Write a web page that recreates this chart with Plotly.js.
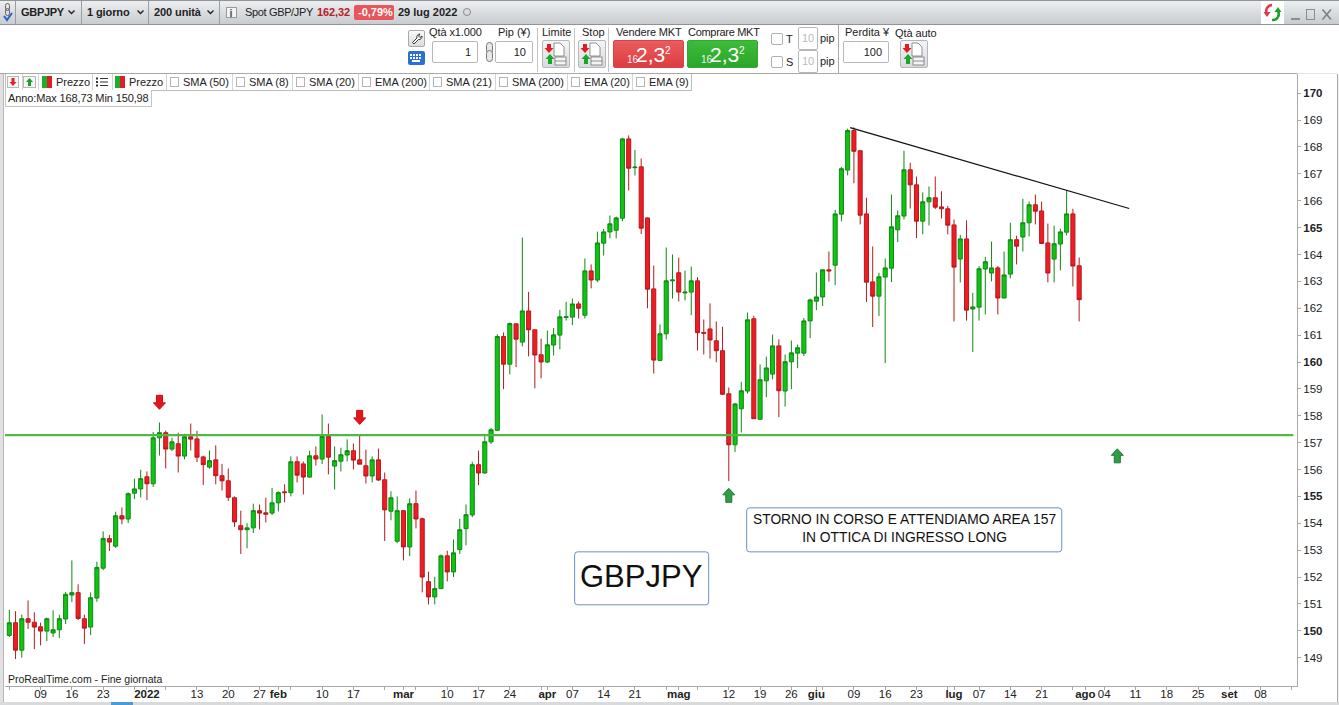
<!DOCTYPE html>
<html>
<head>
<meta charset="utf-8">
<title>GBPJPY</title>
<script src="https://cdn.plot.ly/plotly-3.0.1.min.js"></script>
<style>
html,body{margin:0;padding:0;background:#fff;width:1339px;height:705px;overflow:hidden;font-family:"Liberation Sans",Arial,sans-serif;}
#chart{position:absolute;left:0;top:0;width:1339px;height:705px;}
#ui{position:absolute;left:0;top:0;width:1339px;height:705px;pointer-events:none;}
#ui div{position:absolute;box-sizing:border-box;white-space:nowrap;}
#ui svg{position:absolute;overflow:visible;}
</style>
</head>
<body>
<div id="chart"></div>
<div id="ui"></div>
<script>
// ---------- Session index (0 = 2 Dec 2021, weekdays only) and daily prices ----------
const open = [149.83,150.30,149.28,150.45,150.32,150.15,149.99,149.92,150.04,150.44,
151.33,151.42,150.45,150.14,151.22,152.33,153.43,153.15,154.28,154.16,
155.12,155.28,155.73,155.47,157.18,157.37,156.76,156.96,156.50,157.22,
157.14,156.47,156.09,156.36,155.77,155.58,154.95,153.91,153.76,153.83,
154.47,154.39,154.38,154.76,155.17,155.14,156.29,156.21,155.72,156.51,
156.39,157.23,156.13,156.31,156.54,156.70,156.36,156.14,155.76,156.36,
155.62,154.45,153.33,154.47,153.12,154.73,154.17,151.83,151.26,151.57,
152.79,152.19,153.02,153.80,154.31,156.18,155.87,157.03,157.46,160.95,
159.92,161.42,160.74,161.90,161.20,160.27,160.00,160.63,161.00,161.66,
161.67,162.16,161.74,163.39,163.05,164.42,164.84,164.90,165.35,168.30,
167.23,167.26,165.36,162.72,160.06,161.05,163.02,163.32,162.57,162.60,
163.02,161.10,161.23,160.79,160.42,158.82,156.92,158.26,158.92,161.61,
157.87,159.30,159.55,160.60,158.92,160.01,160.33,160.33,161.53,162.26,
162.42,163.43,163.60,165.50,167.14,168.61,167.86,165.51,162.98,162.45,
163.16,163.49,164.92,165.43,167.15,166.59,165.24,165.96,166.11,165.77,
165.70,165.10,163.83,164.58,161.97,162.04,163.46,163.31,163.50,162.38,
163.27,164.55,164.65,165.18,165.85,165.62,164.43,163.83,164.39,164.83,
165.51,163.58];
const high = [150.78,150.73,150.60,151.13,150.69,150.30,150.49,150.76,150.60,151.44,
152.62,151.73,150.60,151.43,152.57,153.70,153.57,154.43,154.59,155.15,
155.66,155.99,155.93,157.40,157.75,157.45,157.18,157.37,157.33,157.71,
157.44,156.52,156.71,156.90,156.21,156.04,155.00,154.47,154.00,154.73,
154.70,154.95,155.32,155.19,155.45,156.49,156.49,156.30,156.70,156.86,
158.05,157.71,156.86,156.81,157.12,156.97,157.27,156.74,156.49,156.78,
155.89,155.19,155.00,154.48,154.93,155.22,154.21,152.20,152.01,152.84,
152.98,153.40,154.17,154.70,156.29,156.70,157.24,157.55,161.03,161.10,
161.47,161.43,164.63,162.61,161.20,160.87,161.17,161.27,161.94,162.24,
162.36,162.25,163.85,163.63,164.85,164.95,165.45,165.41,168.34,168.43,
167.89,167.57,165.38,163.59,161.40,164.26,164.00,163.88,163.40,163.55,
163.16,161.58,162.18,161.51,161.31,159.05,158.48,159.26,161.84,161.72,
159.91,160.20,161.02,160.84,160.28,160.80,160.65,161.64,162.36,163.33,
163.43,164.11,165.66,167.26,168.68,168.73,167.87,166.11,164.30,163.32,
163.85,166.23,165.64,167.86,167.41,166.90,166.31,166.53,166.90,166.35,
165.81,165.30,164.73,165.27,162.57,163.57,163.91,164.48,163.57,164.11,
165.18,164.70,166.07,165.97,166.23,165.97,165.15,165.07,164.96,166.37,
165.70,163.89];
const low = [149.77,148.95,149.00,150.07,149.32,149.46,149.62,149.77,149.73,150.25,
151.07,150.40,149.51,149.84,151.08,152.26,152.97,153.08,153.96,154.01,
154.90,154.96,154.86,155.35,156.52,156.04,156.69,155.89,156.38,156.71,
156.28,155.42,156.03,155.45,155.22,154.83,153.86,152.86,153.07,153.64,
153.77,154.03,154.31,154.44,154.78,155.00,155.52,155.07,155.70,156.15,
156.20,155.82,155.26,155.93,156.30,156.00,156.20,155.48,155.52,155.57,
153.34,154.11,153.26,152.62,152.78,153.81,151.43,150.98,150.98,151.55,
151.84,152.00,152.86,153.18,154.23,155.42,155.85,156.95,157.43,158.99,
159.54,159.81,160.58,160.21,159.02,159.39,159.96,160.24,160.47,161.54,
161.37,161.62,161.62,162.74,162.97,163.96,164.60,164.60,165.23,166.38,
166.94,164.76,162.00,159.57,160.03,160.84,162.36,162.25,162.29,161.74,
160.43,160.28,160.13,159.99,158.77,155.57,156.65,157.38,158.83,157.89,
157.85,158.69,159.35,157.95,158.34,158.99,159.77,160.22,160.89,161.93,
162.08,162.99,162.86,165.23,166.94,166.65,165.12,162.23,161.30,161.71,
159.96,162.97,164.46,165.30,165.71,164.61,164.75,165.08,165.69,165.34,
164.75,161.51,162.96,161.54,160.37,161.54,161.77,163.00,161.77,162.38,
163.11,163.63,164.11,164.67,165.12,164.39,162.96,162.96,163.41,164.71,
162.81,161.51];
const close = [150.30,149.28,150.45,150.32,150.14,149.99,150.45,150.04,150.45,151.36,
151.42,150.46,150.10,151.23,152.36,153.44,153.30,154.28,154.16,155.10,
155.28,155.66,155.47,157.18,157.37,156.76,157.03,156.50,157.22,157.13,
156.46,156.18,156.33,155.77,155.58,154.97,154.05,153.76,153.83,154.47,
154.38,154.34,154.76,155.14,155.14,156.29,155.79,155.72,156.51,156.39,
157.23,156.46,156.33,156.55,156.70,156.35,156.20,155.76,156.36,155.61,
154.50,154.95,154.47,153.12,154.73,154.16,152.00,151.26,151.57,152.79,
152.19,152.90,153.76,154.32,156.18,155.87,157.03,157.48,160.95,159.92,
161.43,160.85,161.90,161.20,160.26,160.00,160.64,161.01,161.68,161.68,
162.16,162.00,163.39,163.05,164.43,164.84,165.14,165.36,168.30,167.21,
167.25,164.98,162.71,160.07,161.05,163.02,163.05,162.60,162.60,163.02,
161.09,161.07,160.82,160.42,158.80,156.92,158.44,158.93,161.57,157.89,
159.34,159.78,160.60,158.93,160.01,160.34,160.53,161.53,162.31,162.42,
163.43,163.39,165.51,167.19,168.61,167.84,165.46,162.97,162.45,163.17,
163.50,165.03,165.44,167.15,166.59,165.24,165.96,166.11,165.76,165.70,
165.09,163.53,164.58,161.93,162.05,163.47,163.73,163.50,162.38,163.24,
164.55,164.31,165.18,165.85,165.61,164.41,163.31,164.40,164.84,165.51,
163.57,162.32];

// ---------- Axis ticks ----------
const xTickIndex = [0,5,10,15,20,22,25,30,35,40,43,45,50,55,60,63,65,70,75,80,85,86,90,95,100,105,107,110,115,120,125,129,130,135,140,145,150,151,155,160,165,170,172,175,180,185,190,195,200,205];
const xTickLabel = ["","09","16","23","","<b>2022</b>","","13","20","27","<b>feb</b>","","10","17","","<b>mar</b>","","10","17","24","","<b>apr</b>","07","14","21","","<b>mag</b>","","12","19","26","<b>giu</b>","","09","16","23","","<b>lug</b>","07","14","21","","<b>ago</b>","04","11","18","25","<b>set</b>","08",""];
const yTickValue = [149,150,151,152,153,154,155,156,157,158,159,160,161,162,163,164,165,166,167,168,169,170];
const yTickLabel = ["149","<b>150</b>","151","152","153","154","<b>155</b>","156","157","158","159","<b>160</b>","161","162","163","164","<b>165</b>","166","167","168","169","<b>170</b>"];

// ---------- Drawn levels, arrows, notes ----------
const supportLevel = 157.28;
const trendIndex = [134.4, 179];
const trendPrice = [168.72, 165.71];
const redArrowIndex = [24, 56];
const redArrowPrice = [158.50, 157.94];
const greenArrowIndex = [115, 177.1];
const greenArrowPrice = [155.04, 156.51];
const noteStorno = "STORNO IN CORSO E ATTENDIAMO AREA 157<br>IN OTTICA DI INGRESSO LONG";
const noteSymbol = "GBPJPY";
const noteFooter = "ProRealTime.com - Fine giornata";

// ---------- Frame ----------
const W = 1339, H = 705;
const plotL = 5, plotR = 1296.7, plotT = 73.5, plotB = 685.7;
const px2x = px => (px - 9.3) / 6.255;
const py2y = py => 170 - (py - 92.7) / 26.89;
const paperX = px => (px - plotL) / (plotR - plotL);
const paperY = py => (plotB - py) / (plotB - plotT);

function roundedBox(x0, y0, x1, y1, r) {
  const X = paperX, Y = paperY, rx = r;
  return {
    type: 'path', xref: 'paper', yref: 'paper', layer: 'above',
    path: `M ${X(x0 + rx)} ${Y(y0)} L ${X(x1 - rx)} ${Y(y0)} Q ${X(x1)} ${Y(y0)} ${X(x1)} ${Y(y0 + rx)} L ${X(x1)} ${Y(y1 - rx)} Q ${X(x1)} ${Y(y1)} ${X(x1 - rx)} ${Y(y1)} L ${X(x0 + rx)} ${Y(y1)} Q ${X(x0)} ${Y(y1)} ${X(x0)} ${Y(y1 - rx)} L ${X(x0)} ${Y(y0 + rx)} Q ${X(x0)} ${Y(y0)} ${X(x0 + rx)} ${Y(y0)} Z`,
    line: { color: '#6b90c8', width: 1 }, fillcolor: 'rgba(255,255,255,0)'
  };
}
function blockArrow(ix, price, up, fill, edge) {
  const s = up ? 1 : -1;
  return {
    type: 'path', layer: 'above', xref: 'x', yref: 'y',
    xsizemode: 'pixel', ysizemode: 'pixel', xanchor: ix, yanchor: price,
    path: `M 0 ${7 * s} L 6 ${0.5 * s} L 3 ${0.5 * s} L 3 ${-7 * s} L -3 ${-7 * s} L -3 ${0.5 * s} L -6 ${0.5 * s} Z`,
    fillcolor: fill, line: { color: edge, width: 1 }
  };
}

const shapes = [
  { type: 'line', xref: 'x', yref: 'y', layer: 'above', x0: px2x(5), x1: px2x(1293), y0: supportLevel, y1: supportLevel, line: { color: '#4fb847', width: 2.4 } },
  { type: 'line', xref: 'x', yref: 'y', layer: 'above', x0: trendIndex[0], x1: trendIndex[1], y0: trendPrice[0], y1: trendPrice[1], line: { color: '#111111', width: 1.2 } },
  roundedBox(746.5, 507.5, 1061.5, 551.5, 3),
  roundedBox(574.5, 551.5, 708.5, 604.5, 3)
];
redArrowIndex.forEach((ix, i) => shapes.push(blockArrow(ix, redArrowPrice[i], false, '#e8141c', '#c01018')));
greenArrowIndex.forEach((ix, i) => shapes.push(blockArrow(ix, greenArrowPrice[i], true, '#2f9e44', '#1f7a33')));

const traces = [{
  type: 'candlestick',
  x: open.map((_, i) => i),
  open: open, high: high, low: low, close: close,
  increasing: { line: { color: '#0d8a12', width: 1 }, fillcolor: '#10c414' },
  decreasing: { line: { color: '#b51a1e', width: 1 }, fillcolor: '#f01c24' },
  whiskerwidth: 0,
  hoverinfo: 'skip',
  showlegend: false
}];

const layout = {
  width: W, height: H, autosize: false,
  margin: { l: plotL, r: W - plotR, t: plotT, b: H - plotB, pad: 0 },
  paper_bgcolor: '#ffffff', plot_bgcolor: '#ffffff',
  font: { family: '"Liberation Sans", Arial, sans-serif', size: 11, color: '#222222' },
  showlegend: false, hovermode: false, dragmode: false,
  boxgap: 0.35, boxgroupgap: 0,
  xaxis: {
    type: 'linear', range: [px2x(plotL), px2x(plotR)], rangeslider: { visible: false },
    tickmode: 'array', tickvals: xTickIndex, ticktext: xTickLabel, tickangle: 0,
    ticks: 'outside', ticklen: 3, tickwidth: 1, tickcolor: '#a8a8a8', ticklabelstandoff: -6,
    showgrid: false, zeroline: false, showline: true, linecolor: '#a8a8a8', linewidth: 1,
    tickfont: { family: '"Liberation Sans", Arial, sans-serif', size: 11.5, color: '#222222' }
  },
  yaxis: {
    type: 'linear', side: 'right', range: [py2y(plotB), py2y(plotT)],
    tickmode: 'array', tickvals: yTickValue, ticktext: yTickLabel,
    ticks: 'outside', ticklen: 3, tickwidth: 1, tickcolor: '#a8a8a8',
    showgrid: false, zeroline: false, showline: true, linecolor: '#a8a8a8', linewidth: 1,
    tickfont: { family: '"Liberation Sans", Arial, sans-serif', size: 11.5, color: '#222222' }
  },
  shapes: shapes,
  annotations: [
    { xref: 'paper', yref: 'paper', x: paperX(904.5), y: paperY(528.5), text: noteStorno, showarrow: false, xanchor: 'center', yanchor: 'middle', align: 'center', font: { size: 13.8, color: '#111111' } },
    { xref: 'paper', yref: 'paper', x: paperX(640.8), y: paperY(576.5), text: noteSymbol, showarrow: false, xanchor: 'center', yanchor: 'middle', font: { size: 31, color: '#111111' } },
    { xref: 'paper', yref: 'paper', x: paperX(5.5), y: paperY(679), text: noteFooter, showarrow: false, xanchor: 'left', yanchor: 'middle', font: { size: 10.5, color: '#222222' } }
  ]
};

Plotly.newPlot('chart', traces, layout, { displayModeBar: false, staticPlot: true, responsive: false });

// ---------- Platform window around the chart (plain HTML text and boxes) ----------
const ui = document.getElementById('ui');
function box(x, y, w, h, css) {
  const d = document.createElement('div');
  d.style.cssText = `left:${x}px;top:${y}px;width:${w}px;height:${h}px;${css || ''}`;
  ui.appendChild(d);
  return d;
}
function label(x, y, text, css) {
  const d = document.createElement('div');
  d.style.cssText = `left:${x}px;top:${y}px;font-size:11px;line-height:13px;color:#222;${css || ''}`;
  d.textContent = text;
  ui.appendChild(d);
  return d;
}
function svg(x, y, w, h, inner) {
  const s = document.createElementNS('http://www.w3.org/2000/svg', 'svg');
  s.setAttribute('width', w); s.setAttribute('height', h);
  s.style.left = x + 'px'; s.style.top = y + 'px';
  s.innerHTML = inner;
  ui.appendChild(s);
}
const chevron = (x, y) => svg(x, y, 8, 5, '<polyline points="0.5,0.5 3.5,3.5 6.5,0.5" fill="none" stroke="#222" stroke-width="1.4"/>');
const checkbox = (x, y, size) => box(x, y, size, size, 'background:#fff;border:1px solid #b0b0b0;border-radius:2px;');
const ticketIcon = (x, y, colored) => {
  box(x, y, 28, 28, 'background:linear-gradient(#f4f5f6,#d8dbde);border:1px solid #b4b8bc;border-radius:2px;');
  svg(x + 3, y + 2, 22, 24, `<path d="M9 1 h6 l4 4 v9 h-10z" fill="#fff" stroke="#777" stroke-width="0.8"/>
    <path d="M2 2 h4 v4 h2.5 l-4.5 5 l-4.5 -5 h2.5z" fill="#e01c24"/>
    <path d="M4 12 l4.5 5 h-2.5 v5 h-4 v-5 h-2.5z" fill="#18a828" transform="translate(1,0)"/>
    <rect x="10" y="15" width="11" height="8" fill="#f5f5f5" stroke="#777" stroke-width="0.8"/><line x1="10" y1="19" x2="21" y2="19" stroke="#777" stroke-width="0.8"/>`);
};

// outer edges
box(0, 25, 4, 680, 'background:#dfe1e3;border-right:1px solid #b8b8b8;');
box(1337, 25, 2, 680, 'background:#f0f0f0;border-left:1px solid #a8a8a8;');
box(0, 702, 1339, 3, 'background:#d8dadc;');
box(111, 702, 22, 3, 'background:#4a9ad8;');

// top header
box(0, 0, 1339, 25, 'background:linear-gradient(#eceef0,#c8cccf);border-top:1px solid #909498;border-bottom:1px solid #8f9397;');
[15, 81, 148, 219].forEach(x => box(x, 1, 1, 23, 'background:#9a9ea2;'));
svg(3, 3, 10, 20, '<rect x="2.5" y="0.5" width="4" height="7" rx="2" fill="none" stroke="#666"/><rect x="2.5" y="5.5" width="4" height="7" rx="2" fill="none" stroke="#666"/><polyline points="1,13 4,17 9,10" fill="none" stroke="#2a62c8" stroke-width="2"/>');
label(21, 6, 'GBPJPY', 'font-weight:bold;letter-spacing:-0.3px;');
chevron(68, 10);
label(87, 6, '1 giorno', 'font-weight:bold;letter-spacing:-0.1px;');
chevron(137, 10);
label(154, 6, '200 unità', 'font-weight:bold;letter-spacing:-0.1px;');
chevron(207, 10);
box(226, 7, 11, 11, 'background:#f4f4f4;border:1px solid #999;');
label(229.5, 6.5, 'i', 'color:#555;font-weight:bold;');
label(245, 6, 'Spot GBP/JPY', 'letter-spacing:-0.35px;');
label(317, 6, '162,32', 'color:#b81c24;font-weight:bold;letter-spacing:-0.1px;');
box(354, 5, 40, 15, 'background:#e9555a;border-radius:2px;');
label(358, 6, '-0,79%', 'color:#fff;font-weight:bold;');
label(398, 6, '29 lug 2022', 'font-weight:bold;');
box(463, 8, 8, 8, 'border:1px solid #888;border-radius:50%;');
box(1261, 1, 23, 23, 'background:#fff;');
svg(1263, 3, 20, 20, '<path d="M9 2 A6 6 0 0 0 4 11" fill="none" stroke="#e03a40" stroke-width="2.5"/><path d="M0.5 9 h7 l-3.5 5z" fill="#e03a40"/><path d="M9 17 A6 6 0 0 0 15 8" fill="none" stroke="#18a428" stroke-width="2.5"/><path d="M11.5 9 h7 l-3.5 -5z" fill="#18a428"/>');
box(1291, 18, 9, 2, 'background:#8a8e92;');
box(1306, 9, 9, 11, 'border:1px solid #8a8e92;');
svg(1322, 9, 10, 11, '<path d="M0.5 0.5 L9 10.5 M9 0.5 L0.5 10.5" stroke="#7d8185" stroke-width="1.6"/>');

// order ticket bar
box(0, 25, 1339, 48.5, 'background:#fff;');
box(0, 73, 1296.7, 1, 'background:#a8a8a8;');
box(1297, 73, 40, 1, 'background:#e4e4e4;');
box(408, 30, 17, 17, 'background:linear-gradient(#fafafa,#dcdcdc);border:1px solid #aaa;border-radius:2px;');
svg(411, 33, 12, 12, '<path d="M9 1 a3 3 0 0 0 -3 4 L1.5 9.5 L3 11 L7.5 6.5 a3 3 0 0 0 3.5 -3.5 l-2 1.5 l-1.5 -1.5z" fill="#fff" stroke="#333" stroke-width="1"/>');
box(408, 51, 17, 14, 'background:#2c6ed6;border-radius:2px;');
svg(410, 54, 13, 9, '<g fill="#fff"><rect x="0" y="0" width="2" height="2"/><rect x="3" y="0" width="2" height="2"/><rect x="6" y="0" width="2" height="2"/><rect x="9" y="0" width="2" height="2"/><rect x="0" y="3" width="2" height="2"/><rect x="3" y="3" width="2" height="2"/><rect x="6" y="3" width="2" height="2"/><rect x="9" y="3" width="2" height="2"/><rect x="2" y="6" width="8" height="2"/></g>');
const inputBox = (x, y, w, h, text, css) => {
  const d = box(x, y, w, h, `background:#fff;border:1px solid #b8b8b8;border-radius:2px;text-align:right;font-size:11px;line-height:${h - 2}px;padding-right:6px;color:#222;${css || ''}`);
  d.textContent = text;
  return d;
};
label(429, 26, 'Qtà x1.000', 'letter-spacing:-0.1px;');
inputBox(432, 41, 46, 22, '1');
svg(484, 42, 12, 20, '<rect x="2.5" y="0.5" width="6" height="11" rx="3" fill="#e8e8e8" stroke="#777"/><rect x="2.5" y="8.5" width="6" height="11" rx="3" fill="#e8e8e8" stroke="#777"/>');
label(498, 26, 'Pip (¥)');
inputBox(495, 41, 38, 22, '10');
box(537, 28, 1, 44, 'background:#c4c4c4;');
box(574, 28, 1, 44, 'background:#c4c4c4;');
box(608, 28, 1, 44, 'background:#c4c4c4;');
label(542, 26, 'Limite');
ticketIcon(542, 40);
label(582, 26, 'Stop');
ticketIcon(578, 40);
label(616, 26, 'Vendere MKT', 'letter-spacing:-0.15px;');
label(688, 26, 'Comprare MKT', 'letter-spacing:-0.3px;');
const quote = (x, w, bg, edge) => {
  const b = box(x, 40, w, 28, `background:linear-gradient(${bg[0]},${bg[1]});border:1px solid ${edge};border-radius:2px;`);
  label(x + 14, 53, '16', 'color:#fff;font-size:10px;opacity:.9;');
  label(x + 23, 43, '2,3', 'color:#fff;font-size:21px;line-height:24px;');
  label(x + 52, 44, '2', 'color:#fff;font-size:10px;');
  return b;
};
quote(613, 71, ['#ea5c5e', '#dd3c40'], '#d44448');
quote(687, 71, ['#3fbb3a', '#2aa62a'], '#33a833');
checkbox(771, 33, 12);
label(786, 33, 'T');
inputBox(798, 27, 20, 23, '10', 'color:#bbb;text-align:center;padding:0;');
label(820, 32, 'pip');
checkbox(771, 56, 12);
label(786, 56, 'S');
inputBox(798, 50, 20, 23, '10', 'color:#bbb;text-align:center;padding:0;');
label(820, 55, 'pip');
box(838, 25, 1, 48, 'background:#a8a8a8;');
label(845, 26, 'Perdita ¥');
inputBox(843, 41, 46, 22, '100');
label(895, 27, 'Qtà auto', 'letter-spacing:-0.1px;');
ticketIcon(900, 40);

// indicator strip
box(5, 73.5, 687, 17, 'background:#fff;border:1px solid #bcbcbc;border-top:none;');
[22, 38, 92, 112, 166, 232, 292, 358, 429, 495, 567, 632].forEach(x => box(x, 74, 1, 16, 'background:#d4d4d4;'));
box(7, 76, 12, 12, 'background:#f6f6f6;border:1px solid #b8b8b8;');
svg(9, 77, 8, 10, '<path d="M4 9 L0.5 5 H2.5 V1 H5.5 V5 H7.5Z" fill="#e0202a"/>');
box(23, 76, 13, 12, 'background:#f6f6f6;border:1px solid #b8b8b8;');
svg(25, 77, 9, 10, '<path d="M4.5 1 L8 5 H6 V9 H3 V5 H1Z" fill="#18a028"/>');
const swatch = x => { box(x, 76, 5, 12, 'background:#18b028;'); box(x + 5, 76, 5, 12, 'background:#e01c24;'); };
swatch(42); swatch(115);
label(56, 76, 'Prezzo');
label(129, 76, 'Prezzo');
svg(96, 77, 12, 10, '<g fill="#333"><rect x="0" y="0.5" width="2" height="2"/><rect x="0" y="4" width="2" height="2"/><rect x="0" y="7.5" width="2" height="2"/><rect x="4" y="1" width="8" height="1"/><rect x="4" y="4.5" width="8" height="1"/><rect x="4" y="8" width="8" height="1"/></g>');
const indicatorName = ['SMA (50)', 'SMA (8)', 'SMA (20)', 'EMA (200)', 'SMA (21)', 'SMA (200)', 'EMA (20)', 'EMA (9)'];
const indicatorLeft = [170, 236, 296, 362, 433, 499, 571, 636];
indicatorName.forEach((name, i) => {
  box(indicatorLeft[i], 77, 9, 10, 'background:#fff;border:1px solid #b4b4b4;');
  label(indicatorLeft[i] + 13, 76, name);
});
const anno = box(5, 90, 147, 17, 'background:#fff;border:1px solid #c4c4c4;border-top:none;font-size:11px;line-height:16px;padding-left:2px;letter-spacing:-0.12px;color:#222;');
anno.textContent = 'Anno:Max 168,73 Min 150,98';
</script>
</body>
</html>
